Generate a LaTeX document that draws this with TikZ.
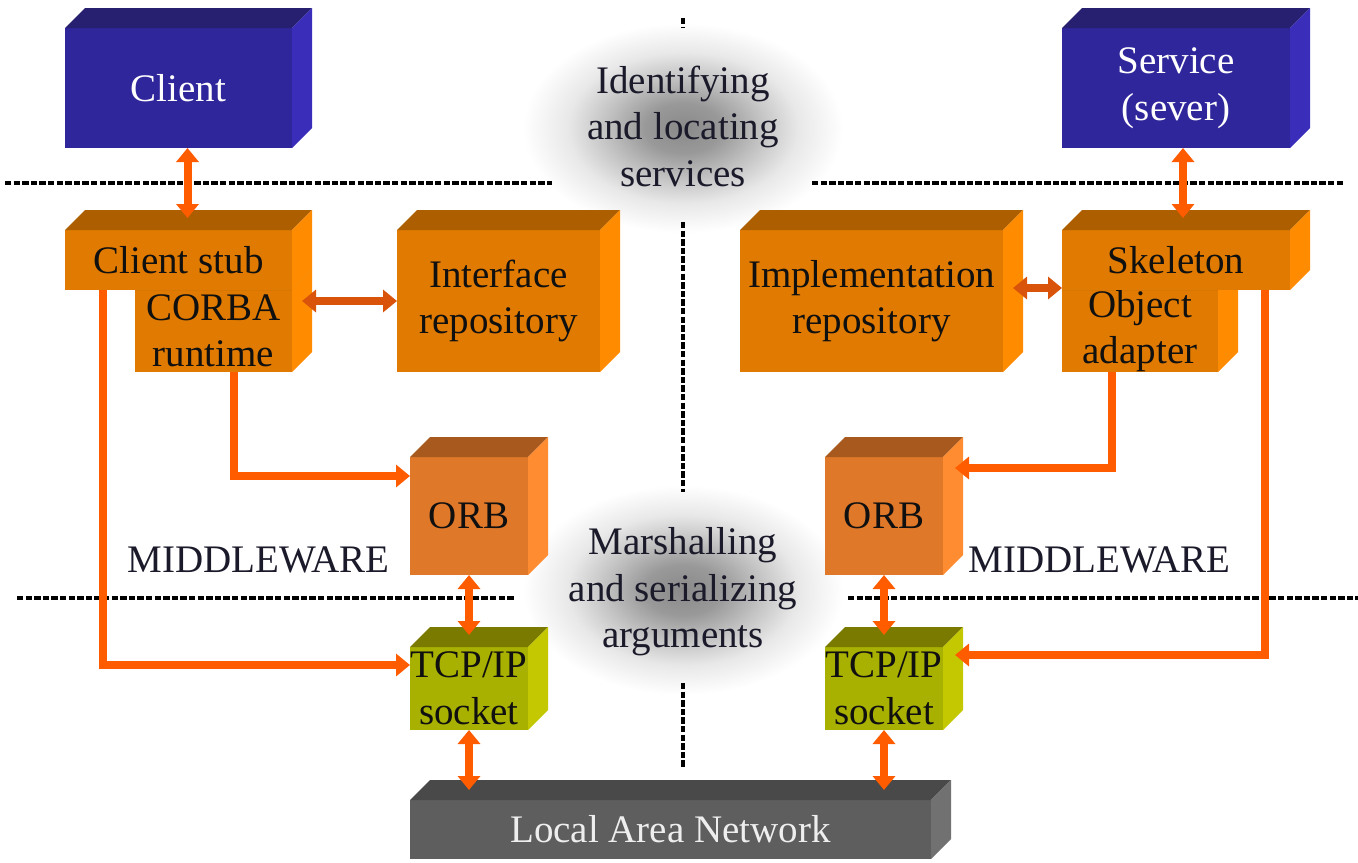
\documentclass[tikz,border=0pt]{standalone}
\usepackage{fontspec}
\setmainfont{Liberation Serif}
\usetikzlibrary{arrows.meta,calc,fit}

\definecolor{bluefront}{HTML}{30269B}
\definecolor{bluetop}{HTML}{272070}
\definecolor{blueside}{HTML}{3A2DBA}
\definecolor{bluetext}{HTML}{FFFFFF}
\definecolor{orangefront}{HTML}{E07A00}
\definecolor{orangetop}{HTML}{AD5F00}
\definecolor{orangeside}{HTML}{FF8C00}
\definecolor{orangetext}{HTML}{101010}
\definecolor{orbfront}{HTML}{E0782A}
\definecolor{orbtop}{HTML}{A85A1E}
\definecolor{orbside}{HTML}{FF8C30}
\definecolor{orbtext}{HTML}{101010}
\definecolor{tcpfront}{HTML}{A8B000}
\definecolor{tcptop}{HTML}{7A7A00}
\definecolor{tcpside}{HTML}{C4C800}
\definecolor{tcptext}{HTML}{101010}
\definecolor{lanfront}{HTML}{5E5E5E}
\definecolor{lantop}{HTML}{494949}
\definecolor{lanside}{HTML}{717171}
\definecolor{lantext}{HTML}{EEEEEE}
\definecolor{arrcol}{HTML}{FF5C00}
\definecolor{arrdark}{HTML}{D9530A}
\definecolor{labtext}{HTML}{1A1A2A}

\pgfdeclareradialshading{glowshade}{\pgfpoint{0bp}{0bp}}{%
  color(0bp)=(black!46); color(6bp)=(black!40); color(12bp)=(black!24);
  color(18bp)=(black!9); color(25bp)=(white); color(50bp)=(white)}

\newcommand{\cubeb}[7]{%
  \node[fit={(#3,#4)(#5,#6)}, inner sep=0pt, outer sep=0pt, fill=#2front] (#1) {};
  \fill[#2top] (#1.north west) -- ++(20,-20) -- ([shift={(20,-20)}]#1.north east)
     -- (#1.north east) -- cycle;
  \fill[#2side] (#1.north east) -- ++(20,-20) -- ([shift={(20,-20)}]#1.south east)
     -- (#1.south east) -- cycle;
  \node[text=#2text, align=center, inner sep=0pt] (#1-text) at (#1.center) {#7};
}

\tikzset{
  every node/.style={font=\fontsize{19.5}{23.25}\selectfont},
  sepline/.style={draw=black, line width=2.4pt, dash pattern=on 3.2pt off 1.1pt},
  conn/.style={draw=arrcol, line width=4pt, -{Triangle[length=7pt,width=11pt]}},
  dbl/.style={draw=arrcol, line width=4pt,
     {Triangle[length=7pt,width=11pt]}-{Triangle[length=7pt,width=11pt]}},
  dbldark/.style={dbl, draw=arrdark},
  midlabel/.style={text=labtext, align=center},
}

\begin{document}
\begin{tikzpicture}[x=0.5pt,y=-0.5pt]
\fill[white] (0,0) rectangle (1358,862);
\useasboundingbox (0,0) rectangle (1358,862);

% glows
\shade[shading=glowshade] (683,128) ellipse (160 and 105);
\shade[shading=glowshade] (683,590) ellipse (160 and 105);

% separator lines
\draw[sepline] (5,183) -- (552,183);
\draw[sepline] (812,183) -- (1345,183);
\draw[sepline] (17,598) -- (515,598);
\draw[sepline] (848,598) -- (1358,598);
\draw[sepline] (683,18) -- (683,28);
\draw[sepline] (683,222) -- (683,492);
\draw[sepline] (683,683) -- (683,767);

% boxes
\cubeb{client}{blue}{65}{28}{292}{148}{Client}
\cubeb{service}{blue}{1062}{28}{1290}{148}{Service\\(sever)}
\cubeb{corba}{orange}{135}{290}{292}{372}{CORBA\\runtime}
\cubeb{stub}{orange}{65}{230}{292}{290}{Client stub}
\cubeb{intf}{orange}{397}{230}{600}{372}{Interface\\repository}
\cubeb{impl}{orange}{740}{230}{1003}{372}{Implementation\\repository}
\cubeb{adapter}{orange}{1062}{290}{1218}{372}{Object\\adapter}
\cubeb{skel}{orange}{1062}{230}{1290}{290}{Skeleton}
\cubeb{orbl}{orb}{410}{457}{528}{575}{ORB}
\cubeb{orbr}{orb}{825}{457}{943}{575}{ORB}
\cubeb{tcpl}{tcp}{410}{647}{528}{730}{TCP/IP\\socket}
\cubeb{tcpr}{tcp}{825}{647}{943}{730}{TCP/IP\\socket}
\cubeb{lan}{lan}{410}{800}{931}{859}{Local Area Network}

% labels
\node[midlabel] (ident) at (683,126) {Identifying\\and locating\\services};
\node[midlabel] (marsh) at (683,592) {Marshalling\\and serializing\\arguments};
\node[text=labtext, anchor=base west, inner sep=0pt] (mwl) at (127,572) {MIDDLEWARE};
\node[text=labtext, anchor=base west, inner sep=0pt] (mwr) at (968,572) {MIDDLEWARE};

% connectors
\draw[dbl] ($(client.south)+(9,0)$) -- ($(stub.north)+(9,-12)$);
\draw[dbl] ($(service.south)+(7,0)$) -- ($(skel.north)+(7,-12)$);
\draw[dbldark] (intf.west) -- ([xshift=5pt]intf.west -| corba.east);
\draw[dbldark] ([yshift=1pt]skel.south west) -- ([xshift=5pt,yshift=1pt]skel.south west -| impl.east);
\draw[conn] ($(corba.south west)+(99,0)$) |- ([yshift=-9.5pt]orbl.north west);
\draw[conn] ($(stub.south west)+(38,0)$) |- ([yshift=-9pt]tcpl.north west);
\draw[conn] ($(adapter.south west)+(50,0)$) |- ([xshift=6pt,yshift=-5.5pt]orbr.north east);
\draw[conn] ($(skel.south east)+(-25,0)$) |- ([xshift=6pt,yshift=-4pt]tcpr.north east);
\draw[dbl] (orbl.south) -- ($(tcpl.north)+(0,-12)$);
\draw[dbl] (tcpl.south) -- ($(lan.north -| tcpl.south)+(0,-10)$);
\draw[dbl] (orbr.south) -- ($(tcpr.north)+(0,-12)$);
\draw[dbl] (tcpr.south) -- ($(lan.north -| tcpr.south)+(0,-10)$);
\end{tikzpicture}
\end{document}
